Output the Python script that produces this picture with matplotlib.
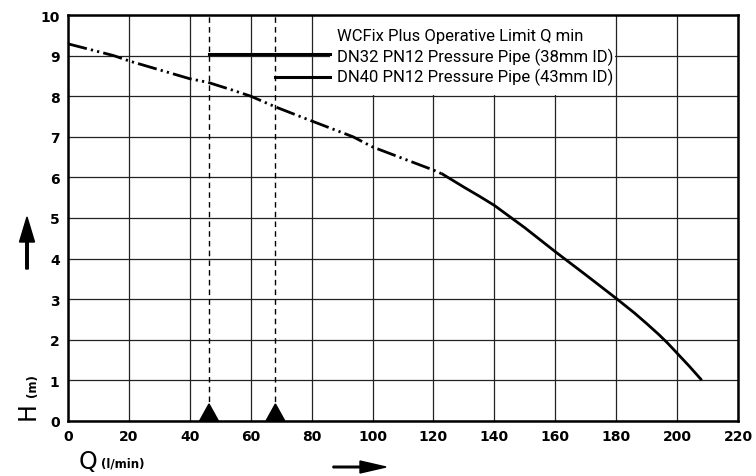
import matplotlib
matplotlib.use("Agg")
import matplotlib.pyplot as plt
from matplotlib import font_manager as fm
from matplotlib.patches import Rectangle, FancyArrow

# ---- data ----
q_dashdot = [0, 15, 20, 40, 46, 54, 60, 68, 80, 93.6, 100, 120, 123]
h_dashdot = [9.29, 9.0, 8.87, 8.43, 8.34, 8.15, 8.0, 7.74, 7.39, 7.0, 6.75, 6.18, 6.08]
q_solid = [123, 130, 135, 140, 150, 160, 170, 180, 186, 190, 194, 197, 200, 204, 207.8]
h_solid = [6.08, 5.76, 5.54, 5.31, 4.76, 4.17, 3.60, 3.02, 2.66, 2.40, 2.13, 1.91, 1.67, 1.35, 1.03]
limit_q = [46.3, 68.1]           # DN32, DN40 operative limit Q min
legend_h = [9.03, 8.47]
legend_end_q = 86
legend_title = "WCFix Plus Operative Limit Q min"
legend_labels = ["DN32 PN12 Pressure Pipe (38mm ID)",
                 "DN40 PN12 Pressure Pipe (43mm ID)"]
x_ticks = list(range(0, 221, 20))
y_ticks = list(range(0, 11))

avail = {f.name for f in fm.fontManager.ttflist}
tick_family = 'Liberation Sans Narrow' if 'Liberation Sans Narrow' in avail else 'DejaVu Sans'
text_family = 'Roboto' if 'Roboto' in avail else 'DejaVu Sans'

fig = plt.figure(figsize=(7.56, 4.77), dpi=100)
ax = fig.add_axes([68/756, 55/477, 670/756, 406/477])
ax.set_xlim(0, 220)
ax.set_ylim(0, 10)
ax.set_xticks(x_ticks)
ax.set_yticks(y_ticks)
ax.tick_params(length=0, pad=6)
for lab in ax.get_xticklabels() + ax.get_yticklabels():
    lab.set_family('DejaVu Sans')
    lab.set_fontsize(10)
    lab.set_fontweight('bold')
ax.grid(True, color='#222222', lw=0.9, zorder=0)
ax.set_axisbelow(True)
for s in ax.spines.values():
    s.set_linewidth(1.8)
    s.set_color('black')
    s.set_zorder(6)

# white box behind legend text
ax.add_patch(Rectangle((legend_end_q, 8.02), 179.6 - legend_end_q, 2.0,
                       facecolor='white', edgecolor='none', zorder=1.5))

# pump curve
ax.plot(q_dashdot, h_dashdot, color='black', lw=2.0,
        linestyle=(0, (7, 1.5, 0.8, 1.5, 0.8, 1.5)), zorder=3, solid_capstyle='butt')
ax.plot(q_solid, h_solid, color='black', lw=2.0, zorder=3)

# limit lines and triangles
for q, hl in zip(limit_q, legend_h):
    ax.plot([q, q], [0, 10], color='black', lw=1.0, linestyle=(0, (4, 3)), zorder=2)
    ax.fill([q - 3.1, q, q + 3.1], [0, 0.42, 0], color='black', zorder=4)
    ax.plot([q, legend_end_q], [hl, hl], color='black', lw=2.2, zorder=3)

# legend texts
fig.text(337/756, 1 - 36/477, legend_title, family=text_family, fontsize=12, va='center', ha='left')
for i, lab in enumerate(legend_labels):
    fig.text(337/756, 1 - (57 + 20.5 * i)/477, lab, family=text_family, fontsize=12,
             va='center', ha='left')

# axis labels
fig.text(28/756, 1 - 411/477, 'H', fontsize=17, rotation=90, va='center', ha='center',
         family=tick_family)
fig.text(33/756, 1 - 386/477, '(m)', fontsize=8.5, rotation=90, va='center', ha='center',
         family='DejaVu Sans', fontweight='bold')
fig.text(88/756, 1 - 462/477, 'Q', fontsize=17, va='center', ha='center', family=tick_family)
fig.text(101/756, 1 - 464/477, '(l/min)', fontsize=8.5, va='center', ha='left',
         family='DejaVu Sans', fontweight='bold')

# arrows
fig.patches.append(FancyArrow(27/756, 1 - 270/477, 0, 52/477, width=1.6/477,
                              head_width=15/756, head_length=25/477, length_includes_head=True,
                              color='black', transform=fig.transFigure, figure=fig))
fig.patches.append(FancyArrow(333/756, 1 - 468/477, 53/756, 0, width=1.6/477,
                              head_width=12/477, head_length=26/756, length_includes_head=True,
                              color='black', transform=fig.transFigure, figure=fig))

fig.savefig('out.png', dpi=100)
